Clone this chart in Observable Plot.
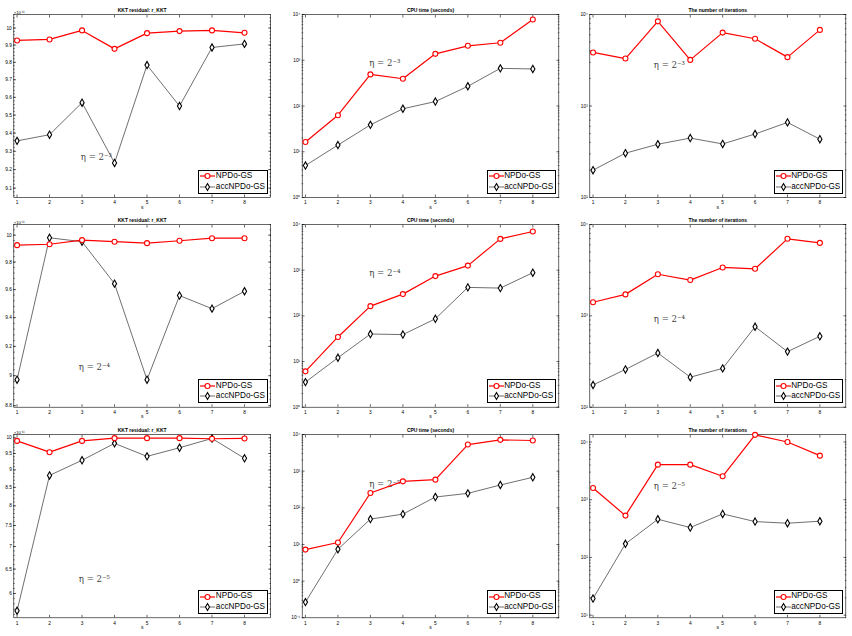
<!DOCTYPE html>
<html>
<head>
<meta charset="utf-8">
<script src="https://cdn.jsdelivr.net/npm/d3@7"></script>
<script src="https://cdn.jsdelivr.net/npm/@observablehq/plot@0.6"></script>
<style>
  body { margin: 0; background: #fff; }
  #wrap { position: relative; width: 852px; height: 636px; overflow: hidden; background: #fff; font-family: "Liberation Sans", Arial, sans-serif; }
  .panel { position: absolute; }
  .legend { position: absolute; background: #fff; border: 0.6px solid #000; font-size: 8.2px; line-height: 10.5px; padding: 0.5px 2px 0.5px 1px; color: #000; }
  .legend div { display: flex; align-items: center; white-space: nowrap; }
  .legend svg { margin-right: 0.5px; }
</style>
</head>
<body>
<div id="wrap"></div>
<script>
// ---------------- data ----------------
const sizes = [1, 2, 3, 4, 5, 6, 7, 8];
const seriesNames = ["NPDo-GS", "accNPDo-GS"];
const etaLabels = ["η = 2⁻³", "η = 2⁻⁴", "η = 2⁻⁵"];
const panelTitles = ["KKT residual: r_KKT", "CPU time (seconds)", "The number of iterations"];

// eta = 2^-3  (KKT residual in units of 1e-11)
const kkt3Npdo = [9.927, 9.933, 9.986, 9.878, 9.970, 9.982, 9.986, 9.972];
const kkt3Acc  = [9.357, 9.391, 9.570, 9.236, 9.784, 9.551, 9.886, 9.907];
const cpu3Npdo = [16.3, 63, 490, 394, 1380, 2070, 2410, 7760];
const cpu3Acc  = [5.0, 14, 38.7, 87, 125, 270, 665, 645];
const it3Npdo  = [3850, 3300, 8420, 3190, 6340, 5430, 3420, 6790];
const it3Acc   = [199, 305, 382, 446, 385, 494, 662, 434];

// eta = 2^-4
const kkt4Npdo = [9.925, 9.932, 9.963, 9.951, 9.940, 9.958, 9.977, 9.977];
const kkt4Acc  = [8.973, 9.980, 9.951, 9.643, 8.973, 9.557, 9.464, 9.588];
const cpu4Npdo = [6.1, 34.5, 163, 299, 742, 1260, 4840, 7020];
const cpu4Acc  = [3.54, 12.1, 40, 38.9, 86, 420, 405, 881];
const it4Npdo  = [1410, 1718, 2852, 2464, 3388, 3273, 6970, 6290];
const it4Acc   = [175, 259, 392, 213, 266, 760, 406, 597];

// eta = 2^-5
const kkt5Npdo = [9.90, 9.54, 9.90, 9.99, 9.99, 9.99, 9.97, 9.98];
const kkt5Acc  = [5.67, 8.84, 9.29, 9.82, 9.41, 9.68, 9.98, 9.35];
const cpu5Npdo = [7.26, 11.3, 253, 528, 587, 5320, 7140, 6850];
const cpu5Acc  = [0.268, 7.41, 49.2, 67.3, 197, 248, 419, 679];
const it5Npdo  = [1600, 531, 4055, 4055, 2547, 13300, 10000, 5810];
const it5Acc   = [19.4, 172, 459, 330, 568, 418, 392, 424];

// tick labels
const kktTicks3 = [9.1, 9.2, 9.3, 9.4, 9.5, 9.6, 9.7, 9.8, 9.9, 10];
const kktTicks4 = [8.8, 9, 9.2, 9.4, 9.6, 9.8, 10];
const kktTicks5 = [6, 6.5, 7, 7.5, 8, 8.5, 9, 9.5, 10];
const cpuTicks  = [1, 10, 100, 1000, 10000];
const cpuTicks5 = [0.1, 1, 10, 100, 1000, 10000];
const itTicks   = [100, 1000, 10000];
const itTicks5  = [10, 100, 1000, 10000];
const kktExponent = "×10⁻¹¹";

// ---------------- helpers ----------------
const SUP = {"-": "⁻", "0": "⁰", "1": "¹", "2": "²", "3": "³", "4": "⁴", "5": "⁵", "6": "⁶", "7": "⁷", "8": "⁸", "9": "⁹"};
const pow10 = d => "10" + String(Math.round(Math.log10(d))).split("").map(c => SUP[c]).join("");
const plain = d => String(+d.toFixed(2));
function logMinor(major) {
  const out = [];
  for (let i = 0; i < major.length - 1; i++) for (let k = 2; k <= 9; k++) out.push(major[i] * k);
  return out;
}
function stepMinor(lo, hi, step) {
  const out = [];
  for (let v = lo; v <= hi + 1e-9; v += step) out.push(+v.toFixed(3));
  return out;
}
const rows = (ys) => sizes.map((s, i) => ({s, v: ys[i]}));

// layout (styling only)
const colLeft = [0, 284, 568], W = 284;
const ml = [13.3, 17.7, 21.3], mr = [14, 9.7, 6.7];
const rowTop = [0, 212, 424], H = 212;
const mt = [14, 12, 10], mb = [15, 17.3, 18.7];
const etaPos = [
  [[67, 139], [67, 45], [64, 47]],
  [[65, 139], [67, 45], [64, 91]],
  [[65, 141], [67, 46], [64, 48]]
];

const panels = [
  {r: 0, c: 0, npdo: kkt3Npdo, acc: kkt3Acc, domain: [9.05, 10.08], ticks: kktTicks3, minor: stepMinor(9.06, 10.08, 0.02), fmt: plain, exp: true},
  {r: 0, c: 1, npdo: cpu3Npdo, acc: cpu3Acc, domain: [1, 10000], ticks: cpuTicks, minor: logMinor(cpuTicks), fmt: pow10},
  {r: 0, c: 2, npdo: it3Npdo, acc: it3Acc, domain: [100, 10000], ticks: itTicks, minor: logMinor(itTicks), fmt: pow10},
  {r: 1, c: 0, npdo: kkt4Npdo, acc: kkt4Acc, domain: [8.79, 10.08], ticks: kktTicks4, minor: stepMinor(8.8, 10.08, 0.04), fmt: plain, exp: true},
  {r: 1, c: 1, npdo: cpu4Npdo, acc: cpu4Acc, domain: [1, 10000], ticks: cpuTicks, minor: logMinor(cpuTicks), fmt: pow10},
  {r: 1, c: 2, npdo: it4Npdo, acc: it4Acc, domain: [100, 10000], ticks: itTicks, minor: logMinor(itTicks), fmt: pow10},
  {r: 2, c: 0, npdo: kkt5Npdo, acc: kkt5Acc, domain: [5.54, 10.11], ticks: kktTicks5, minor: stepMinor(5.6, 10.1, 0.1), fmt: plain, exp: true},
  {r: 2, c: 1, npdo: cpu5Npdo, acc: cpu5Acc, domain: [0.1, 10000], ticks: cpuTicks5, minor: logMinor(cpuTicks5), fmt: pow10},
  {r: 2, c: 2, npdo: it5Npdo, acc: it5Acc, domain: [9, 13500], ticks: itTicks5, minor: logMinor(itTicks5).filter(v => v <= 13500), fmt: pow10}
];

const wrap = document.getElementById("wrap");
const RED = "#ff0000";

for (const p of panels) {
  const {r, c} = p;
  const [ex, ey] = etaPos[r][c];
  const marks = [
    Plot.frame({stroke: "#000", strokeWidth: 0.6}),
    Plot.axisX({ticks: sizes, tickSize: 0, tickPadding: 3.5, tickFormat: d => String(d), label: null, anchor: "bottom"}),
    Plot.axisX({ticks: sizes, tickSize: -2.5, fill: "none", label: null, anchor: "bottom", strokeWidth: 0.6}),
    Plot.axisX({ticks: sizes, tickSize: -2.5, fill: "none", label: null, anchor: "top", strokeWidth: 0.6}),
    Plot.axisY({ticks: p.ticks, tickSize: -2.8, fill: "none", label: null, anchor: "left", strokeWidth: 0.6}),
    Plot.axisY({ticks: p.ticks, tickSize: -2.8, fill: "none", label: null, anchor: "right", strokeWidth: 0.6}),
    Plot.axisY({ticks: p.minor, tickSize: -1.5, fill: "none", label: null, anchor: "left", strokeWidth: 0.5}),
    Plot.axisY({ticks: p.minor, tickSize: -1.5, fill: "none", label: null, anchor: "right", strokeWidth: 0.5}),
    Plot.text(p.ticks, {y: d => d, text: p.fmt, frameAnchor: "left", dx: -2, textAnchor: "end", fontSize: 4.8, fill: "#000"}),
    Plot.text([panelTitles[c]], {frameAnchor: "top", dy: -6, fontWeight: "bold", fontSize: 5, fill: "#000"}),
    Plot.text(["s"], {frameAnchor: "bottom", dy: 11, fontSize: 5, fill: "#000"}),
    Plot.text([etaLabels[r]], {frameAnchor: "top-left", dx: ex, dy: ey, textAnchor: "start", fontSize: 8.6, fontFamily: "DejaVu Serif", fill: "#444"}),
    Plot.line(rows(p.acc), {x: "s", y: "v", stroke: "#4a4a4a", strokeWidth: 0.8}),
    Plot.dot(rows(p.acc), {x: "s", y: "v", symbol: "diamond", r: 2.2, stroke: "#000", fill: "#fff", strokeWidth: 1.1}),
    Plot.line(rows(p.npdo), {x: "s", y: "v", stroke: RED, strokeWidth: 1.2}),
    Plot.dot(rows(p.npdo), {x: "s", y: "v", symbol: "circle", r: 2.5, stroke: RED, fill: "#fff", strokeWidth: 1.1})
  ];
  if (p.exp) marks.push(Plot.text([kktExponent], {frameAnchor: "top-left", dy: -3, textAnchor: "start", fontSize: 4.2, fill: "#000"}));

  const svg = Plot.plot({
    width: W, height: H,
    marginLeft: ml[c], marginRight: mr[c], marginTop: mt[r], marginBottom: mb[r],
    x: {domain: [0.9, 8.8], axis: null},
    y: {type: "log", domain: p.domain, axis: null},
    style: {fontFamily: "Liberation Sans, Arial, sans-serif", fontSize: "4.8px", background: "transparent", color: "#000"},
    marks
  });
  const div = document.createElement("div");
  div.className = "panel";
  div.style.left = colLeft[c] + "px";
  div.style.top = rowTop[r] + "px";
  div.style.width = W + "px";
  div.style.height = H + "px";
  div.appendChild(svg);

  const lg = document.createElement("div");
  lg.className = "legend";
  lg.style.right = (mr[c] + 2) + "px";
  lg.style.bottom = (mb[r] + 3.5) + "px";
  lg.innerHTML = `
    <div><svg width="15" height="10"><line x1="0" y1="5" x2="15" y2="5" stroke="${RED}" stroke-width="1.2"/><circle cx="7.5" cy="5" r="2.5" fill="#fff" stroke="${RED}" stroke-width="1.1"/></svg>${seriesNames[0]}</div>
    <div><svg width="15" height="10"><line x1="0" y1="5" x2="15" y2="5" stroke="#4a4a4a" stroke-width="0.8"/><path d="M7.5,1.5 L9.5,5 L7.5,8.5 L5.5,5 Z" fill="#fff" stroke="#000" stroke-width="1.1"/></svg>${seriesNames[1]}</div>`;
  div.appendChild(lg);
  wrap.appendChild(div);
}
</script>
</body>
</html>
